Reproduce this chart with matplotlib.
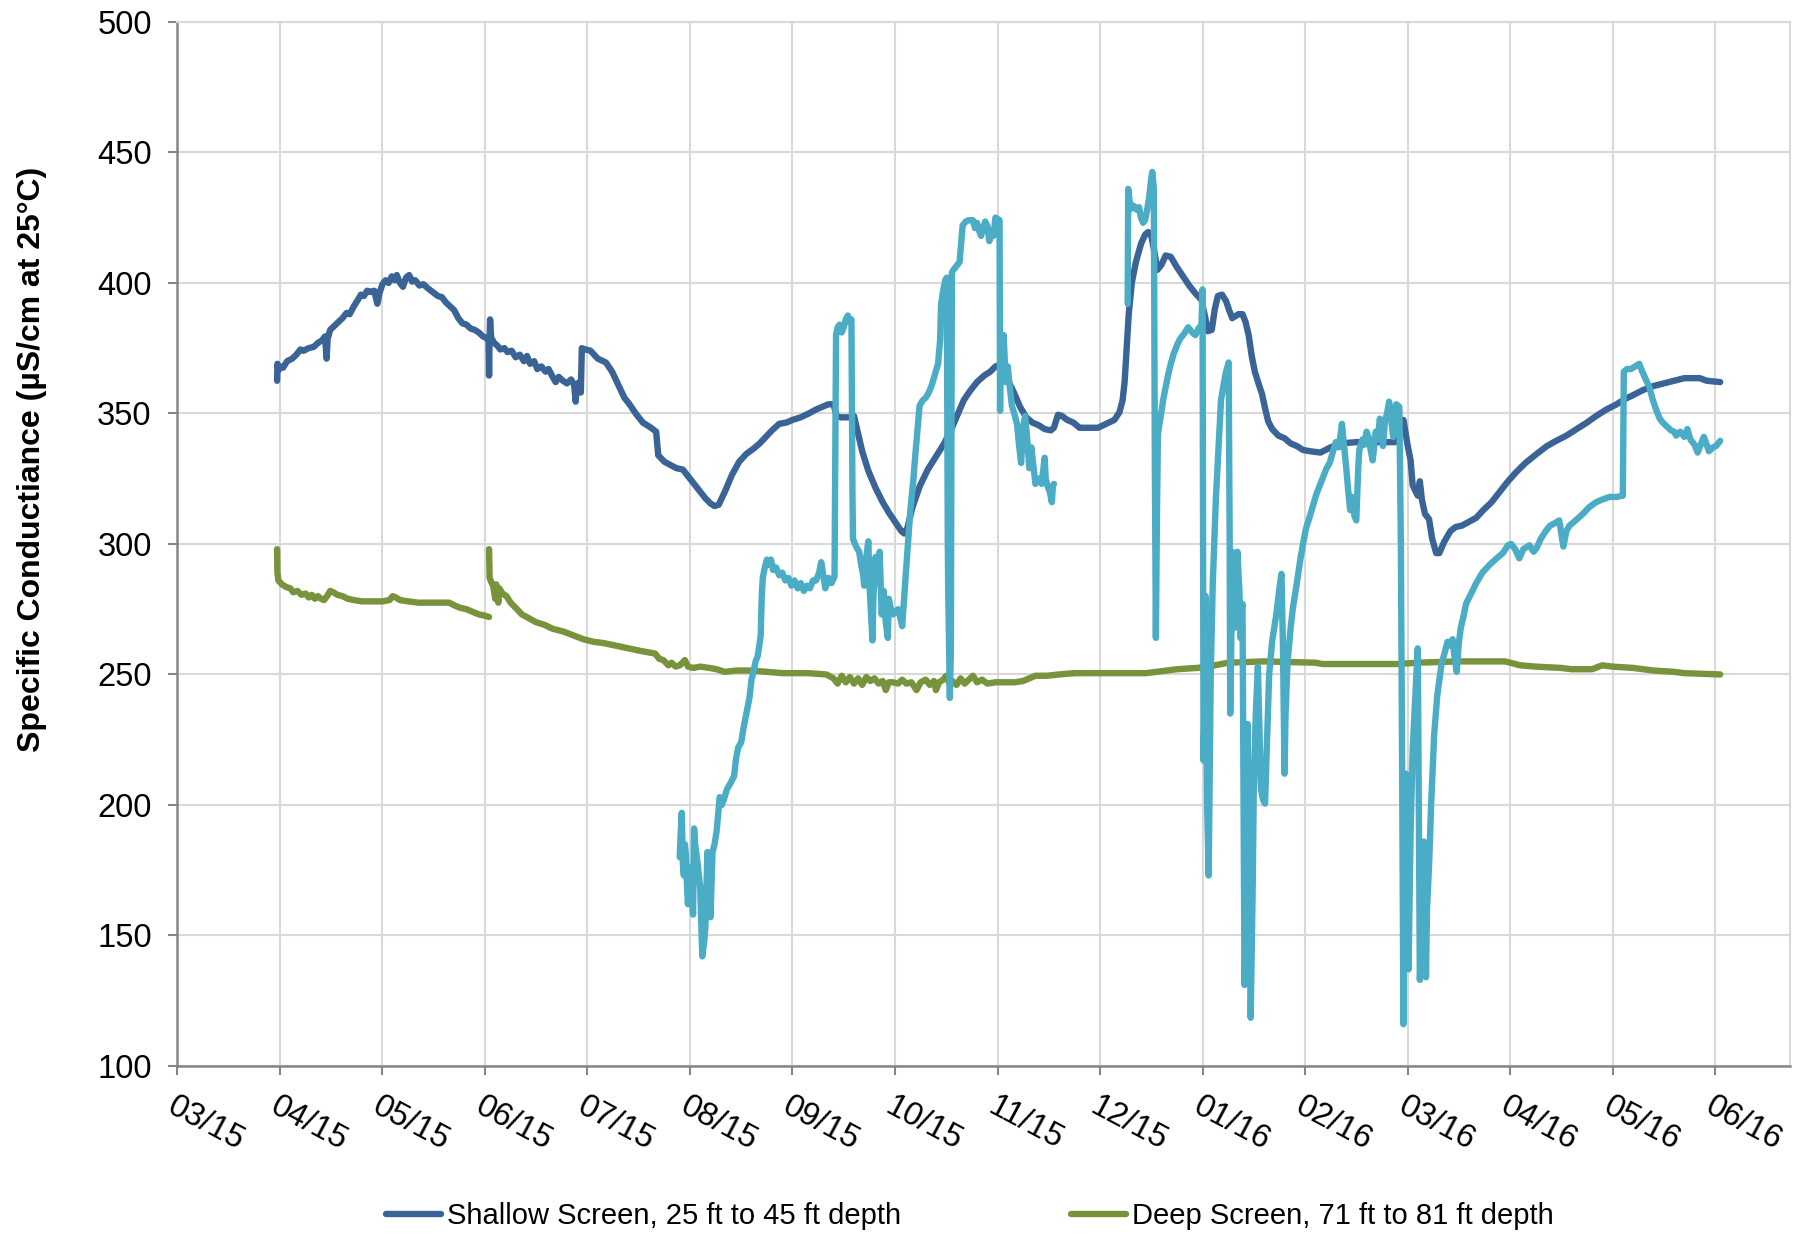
import matplotlib
matplotlib.use("Agg")
import matplotlib.pyplot as plt

plt.rcParams["font.family"] = ["Liberation Sans", "DejaVu Sans"]

# x positions are in months since 1 March 2015 (tick i = month i)
MONTH_LABELS = ["03/15", "04/15", "05/15", "06/15", "07/15", "08/15", "09/15", "10/15",
                "11/15", "12/15", "01/16", "02/16", "03/16", "04/16", "05/16", "06/16"]
Y_TICKS = [100, 150, 200, 250, 300, 350, 400, 450, 500]

# Shallow screen (dark blue)
SHALLOW = [
    (0.972, 362.5), (0.976, 369), (0.985, 366.5), (1.00, 368), (1.03, 367.5), (1.07, 370),
    (1.12, 371), (1.16, 372.5), (1.20, 374.5), (1.23, 374), (1.28, 375), (1.33, 375.5),
    (1.37, 377), (1.41, 378), (1.44, 379.5), (1.455, 371), (1.465, 378.5), (1.49, 382),
    (1.53, 383.5), (1.57, 385), (1.61, 386.5), (1.65, 388.5), (1.68, 388), (1.72, 391),
    (1.76, 393.5), (1.79, 395.5), (1.82, 395), (1.85, 397), (1.88, 396.5), (1.92, 397),
    (1.95, 392), (1.97, 396), (2.00, 399.5), (2.03, 401), (2.06, 400), (2.09, 402.5),
    (2.12, 401), (2.14, 403), (2.17, 400), (2.20, 398.5), (2.23, 402), (2.26, 403),
    (2.29, 400.5), (2.32, 401), (2.36, 399), (2.40, 399.5), (2.44, 398), (2.49, 396.5),
    (2.54, 395), (2.58, 394.5), (2.62, 392.5), (2.66, 391), (2.70, 389.5), (2.74, 386.5),
    (2.78, 384.5), (2.82, 384), (2.86, 382.5), (2.90, 382), (2.94, 381), (2.98, 379.5),
    (3.01, 379), (3.035, 378), (3.04, 364.5), (3.045, 379), (3.05, 386), (3.06, 379),
    (3.09, 377), (3.12, 376), (3.15, 374.5), (3.19, 375), (3.22, 373.5), (3.26, 374),
    (3.30, 371.5), (3.34, 372.5), (3.38, 370), (3.41, 372), (3.44, 369), (3.48, 370),
    (3.51, 367), (3.55, 368), (3.59, 366), (3.62, 367), (3.66, 364), (3.69, 362),
    (3.72, 364), (3.76, 362.5), (3.80, 361.5), (3.84, 363), (3.87, 361), (3.885, 354.5),
    (3.895, 361), (3.92, 362), (3.935, 358), (3.945, 375), (3.98, 374.5), (4.03, 374),
    (4.10, 371), (4.18, 369.5), (4.24, 366), (4.30, 361), (4.36, 356), (4.41, 353.5),
    (4.47, 350), (4.54, 346.5), (4.62, 344.5), (4.67, 343), (4.69, 334), (4.75, 331.5),
    (4.82, 330), (4.87, 329), (4.93, 328.5), (4.98, 326), (5.03, 323.5), (5.09, 320.5),
    (5.15, 317.5), (5.20, 315.5), (5.24, 314.5), (5.28, 315), (5.34, 320), (5.41, 326.5),
    (5.48, 331.5), (5.55, 334.5), (5.62, 336.5), (5.68, 338.5), (5.74, 341), (5.80, 343.5),
    (5.87, 346), (5.94, 346.5), (6.00, 347.5), (6.08, 348.5), (6.16, 350), (6.23, 351.5),
    (6.29, 352.5), (6.35, 353.5), (6.40, 353.5), (6.43, 349), (6.47, 348.5), (6.56, 348.5),
    (6.60, 349), (6.63, 344), (6.68, 335.5), (6.74, 328), (6.81, 321.5), (6.88, 316),
    (6.94, 312), (7.00, 308.5), (7.06, 305), (7.09, 304), (7.12, 306), (7.17, 314),
    (7.24, 322), (7.32, 328.5), (7.40, 333.5), (7.48, 338.5), (7.55, 344), (7.61, 349.5),
    (7.67, 355), (7.73, 358.5), (7.80, 362), (7.87, 364.5), (7.93, 366), (7.98, 368),
    (8.02, 368.5), (8.06, 366), (8.11, 362), (8.16, 358), (8.22, 352.5), (8.28, 348.5),
    (8.34, 346.5), (8.40, 345.5), (8.46, 344), (8.52, 343.5), (8.55, 344.5), (8.59, 349.5),
    (8.63, 349), (8.68, 347.5), (8.74, 346.5), (8.80, 344.5), (8.90, 344.5), (8.98, 344.5),
    (9.06, 346), (9.14, 347.5), (9.19, 350.5), (9.22, 355), (9.24, 362), (9.26, 375),
    (9.28, 388), (9.31, 400), (9.35, 408), (9.40, 415), (9.44, 418.5), (9.47, 419.5),
    (9.50, 418), (9.53, 412), (9.56, 405), (9.60, 407), (9.64, 410.5), (9.69, 410),
    (9.75, 406), (9.81, 402.5), (9.87, 399), (9.93, 396), (9.99, 393.5), (10.03, 386),
    (10.05, 381.5), (10.09, 382), (10.12, 390), (10.15, 395), (10.19, 395.5), (10.23, 393),
    (10.26, 389.5), (10.29, 386.5), (10.35, 388), (10.39, 388), (10.42, 385), (10.45, 380),
    (10.48, 372), (10.51, 366), (10.55, 361), (10.58, 357.5), (10.61, 352), (10.64, 347),
    (10.68, 344), (10.74, 341.5), (10.80, 340.5), (10.86, 338.5), (10.92, 337.5), (10.98, 336),
    (11.05, 335.5), (11.15, 335), (11.25, 337), (11.35, 338.5), (11.50, 339), (11.70, 339),
    (11.88, 339), (11.92, 343), (11.96, 347.5), (12.00, 338), (12.03, 332), (12.05, 322.5),
    (12.08, 320), (12.10, 318.5), (12.12, 324), (12.14, 317), (12.17, 311.5), (12.21, 309.5),
    (12.24, 302), (12.28, 296.5), (12.31, 296.5), (12.36, 301), (12.42, 305), (12.47, 306.5),
    (12.53, 307), (12.60, 308.5), (12.67, 310), (12.74, 313), (12.82, 316), (12.90, 320),
    (12.98, 324), (13.06, 327.5), (13.15, 331), (13.26, 334.5), (13.36, 337.5), (13.45, 339.5),
    (13.55, 341.5), (13.65, 344), (13.75, 346.5), (13.84, 349), (13.94, 351.5), (14.04, 353.5),
    (14.12, 355.5), (14.20, 357), (14.30, 359), (14.40, 360.5), (14.50, 361.5), (14.60, 362.5),
    (14.70, 363.5), (14.85, 363.5), (14.92, 362.5), (15.05, 362),
]

# Deep screen (green), two logger segments
DEEP_1 = [
    (0.972, 298), (0.975, 289), (0.985, 286), (1.02, 284.5), (1.06, 283.5), (1.10, 283),
    (1.13, 281.5), (1.17, 282), (1.21, 280.5), (1.25, 281), (1.28, 279.5), (1.31, 280.5),
    (1.34, 279), (1.37, 280), (1.40, 279), (1.43, 278.5), (1.46, 280), (1.49, 282),
    (1.52, 281.5), (1.56, 280.5), (1.61, 280), (1.66, 279), (1.72, 278.5), (1.80, 278),
    (1.90, 278), (2.00, 278), (2.07, 278.5), (2.10, 280), (2.13, 279.5), (2.17, 278.5),
    (2.25, 278), (2.35, 277.5), (2.45, 277.5), (2.55, 277.5), (2.65, 277.5), (2.70, 276.5),
    (2.76, 275.5), (2.82, 275), (2.88, 274), (2.94, 273), (3.00, 272.5), (3.04, 272),
]
DEEP_2 = [
    (3.04, 298), (3.045, 287), (3.06, 285.5), (3.08, 284), (3.10, 279), (3.11, 284.5),
    (3.13, 277.5), (3.14, 283), (3.17, 281), (3.21, 280), (3.25, 277.5), (3.30, 275.5),
    (3.36, 273), (3.43, 271.5), (3.50, 270), (3.58, 269), (3.66, 267.5), (3.76, 266.5),
    (3.86, 265), (3.96, 263.5), (4.06, 262.5), (4.16, 262), (4.28, 261), (4.40, 260),
    (4.52, 259), (4.66, 258), (4.70, 256), (4.74, 255.5), (4.79, 253.5), (4.82, 254.5),
    (4.86, 253), (4.90, 253.5), (4.95, 255.5), (4.98, 253), (5.03, 252.5), (5.10, 253),
    (5.19, 252.5), (5.26, 252), (5.34, 251), (5.45, 251.5), (5.60, 251.5), (5.75, 251),
    (5.90, 250.5), (6.00, 250.5), (6.15, 250.5), (6.33, 250), (6.40, 248.5), (6.44, 246.5),
    (6.48, 249.5), (6.52, 247), (6.56, 249), (6.60, 246.5), (6.64, 248.5), (6.68, 246),
    (6.72, 249), (6.76, 247.5), (6.80, 248.5), (6.84, 246.5), (6.88, 247.5), (6.91, 244),
    (6.94, 247), (6.98, 247), (7.03, 246.5), (7.07, 248), (7.11, 246.5), (7.16, 247),
    (7.21, 244), (7.25, 247), (7.30, 248), (7.34, 246), (7.38, 247.5), (7.40, 244),
    (7.43, 247), (7.47, 248), (7.50, 249.5), (7.53, 246.5), (7.56, 247.5), (7.60, 246),
    (7.64, 248.5), (7.68, 246.5), (7.72, 248), (7.76, 249.5), (7.80, 247), (7.85, 248),
    (7.90, 246.5), (7.98, 247), (8.08, 247), (8.17, 247), (8.25, 247.5), (8.31, 248.5),
    (8.37, 249.5), (8.48, 249.5), (8.60, 250), (8.75, 250.5), (9.00, 250.5), (9.20, 250.5),
    (9.45, 250.5), (9.55, 251), (9.75, 252), (9.95, 252.5), (10.12, 253.5), (10.25, 254.5),
    (10.60, 255), (11.10, 254.5), (11.17, 254), (11.50, 254), (11.90, 254), (12.10, 254.5),
    (12.50, 255), (12.95, 255), (13.10, 253.5), (13.25, 253), (13.50, 252.5), (13.60, 252),
    (13.80, 252), (13.90, 253.5), (14.00, 253), (14.20, 252.5), (14.40, 251.5), (14.60, 251),
    (14.70, 250.5), (15.05, 250),
]

# Third record (light blue), not in the legend; two segments
LIGHT_1 = [
    (4.90, 180), (4.91, 190), (4.92, 197), (4.93, 178), (4.94, 173), (4.95, 185), (4.96, 181),
    (4.97, 170), (4.98, 162), (4.99, 172), (5.00, 176), (5.02, 165), (5.03, 158), (5.04, 191),
    (5.05, 185), (5.07, 179), (5.09, 172), (5.10, 168), (5.12, 142), (5.14, 148), (5.15, 153),
    (5.17, 182), (5.19, 165), (5.20, 157), (5.22, 182), (5.24, 185), (5.26, 190), (5.29, 203),
    (5.31, 200), (5.33, 202), (5.36, 206), (5.39, 208), (5.43, 211), (5.45, 218), (5.47, 222),
    (5.50, 224), (5.52, 229), (5.54, 233), (5.56, 237), (5.58, 241), (5.60, 248), (5.62, 251),
    (5.64, 255), (5.66, 257), (5.68, 262), (5.69, 265), (5.70, 280), (5.71, 287), (5.73, 291),
    (5.75, 294), (5.77, 292), (5.79, 294), (5.81, 290), (5.84, 291), (5.87, 288), (5.90, 289),
    (5.93, 286), (5.96, 287), (5.99, 284), (6.02, 286), (6.05, 283), (6.08, 285), (6.11, 282),
    (6.14, 284), (6.17, 283), (6.20, 286), (6.23, 286), (6.26, 289), (6.28, 293), (6.30, 288),
    (6.32, 283), (6.35, 287), (6.38, 285), (6.41, 287.5), (6.425, 380), (6.44, 383),
    (6.46, 384), (6.48, 381), (6.50, 383), (6.52, 386), (6.54, 387.5), (6.56, 385),
    (6.575, 386), (6.585, 320), (6.59, 302), (6.62, 299), (6.65, 297), (6.67, 292), (6.69, 288),
    (6.70, 284), (6.72, 295), (6.74, 301), (6.75, 285), (6.77, 270), (6.78, 263), (6.79, 280),
    (6.81, 295), (6.83, 285), (6.85, 297), (6.86, 285), (6.87, 273), (6.88, 278), (6.89, 282),
    (6.91, 270), (6.93, 264), (6.94, 279), (6.96, 275), (6.98, 273), (7.00, 274), (7.03, 275),
    (7.05, 272), (7.07, 268.5), (7.09, 280), (7.11, 291), (7.13, 302), (7.15, 313), (7.18, 325),
    (7.20, 335), (7.22, 344), (7.24, 353), (7.27, 355), (7.30, 356), (7.33, 358), (7.36, 361),
    (7.39, 365), (7.42, 369), (7.44, 378), (7.45, 392), (7.47, 397), (7.49, 401), (7.505, 402),
    (7.515, 300), (7.52, 280), (7.535, 241), (7.545, 260), (7.555, 404), (7.57, 405),
    (7.59, 406), (7.61, 407), (7.63, 408), (7.645, 415), (7.66, 422), (7.69, 423.5),
    (7.72, 424), (7.76, 424), (7.78, 421), (7.80, 423), (7.82, 420), (7.84, 418), (7.86, 421),
    (7.88, 423.5), (7.90, 422), (7.92, 416), (7.94, 420), (7.96, 418), (7.98, 425),
    (8.00, 424.5), (8.02, 424), (8.025, 351), (8.03, 378), (8.04, 372), (8.06, 380),
    (8.08, 362), (8.10, 368), (8.12, 360), (8.14, 353), (8.17, 349), (8.19, 346), (8.21, 338),
    (8.23, 331), (8.25, 345), (8.27, 349), (8.29, 340), (8.31, 329), (8.33, 337), (8.35, 330),
    (8.37, 323), (8.40, 325), (8.43, 323), (8.46, 333), (8.47, 325), (8.49, 322), (8.51, 320),
    (8.53, 316), (8.54, 322), (8.55, 323),
]
LIGHT_2 = [
    (9.27, 392), (9.275, 436), (9.29, 431), (9.31, 428.5), (9.33, 429.5), (9.36, 428),
    (9.38, 429), (9.40, 425), (9.42, 423), (9.44, 424), (9.46, 428), (9.48, 433), (9.50, 440),
    (9.51, 442.5), (9.525, 436), (9.535, 330), (9.545, 264), (9.555, 310), (9.565, 342),
    (9.58, 346), (9.60, 351), (9.62, 356), (9.64, 360), (9.66, 364), (9.69, 369), (9.72, 373),
    (9.75, 376), (9.78, 378.5), (9.82, 380.5), (9.86, 383), (9.90, 381), (9.93, 380),
    (9.96, 382.5), (9.99, 384), (10.00, 397.5), (10.005, 300), (10.01, 217), (10.02, 240),
    (10.03, 280), (10.045, 200), (10.06, 173), (10.07, 210), (10.08, 250), (10.10, 285),
    (10.13, 317), (10.16, 340), (10.18, 355), (10.21, 362), (10.23, 366), (10.255, 369.5),
    (10.265, 300), (10.27, 235), (10.28, 260), (10.29, 297), (10.30, 280), (10.32, 268),
    (10.34, 297), (10.36, 282), (10.37, 264), (10.38, 275), (10.39, 277), (10.40, 200),
    (10.41, 131), (10.43, 170), (10.44, 231), (10.455, 180), (10.47, 118.5), (10.49, 170),
    (10.50, 206), (10.52, 235), (10.54, 253), (10.555, 230), (10.57, 206), (10.59, 202),
    (10.61, 200.5), (10.63, 225), (10.65, 250), (10.68, 263), (10.72, 273), (10.75, 283),
    (10.77, 288.5), (10.785, 260), (10.80, 212), (10.81, 235), (10.83, 255), (10.86, 268),
    (10.88, 275), (10.92, 285), (10.95, 293), (10.98, 300), (11.01, 306), (11.05, 311),
    (11.08, 315), (11.11, 319), (11.14, 322), (11.18, 326), (11.21, 329), (11.24, 331),
    (11.27, 335), (11.30, 339), (11.33, 337), (11.36, 346), (11.38, 338), (11.40, 330),
    (11.42, 321), (11.44, 313), (11.46, 318), (11.48, 311), (11.50, 309), (11.52, 330),
    (11.53, 336), (11.56, 340), (11.58, 338), (11.60, 343), (11.62, 341), (11.64, 336),
    (11.66, 332), (11.69, 343), (11.71, 340), (11.73, 348), (11.75, 342), (11.76, 337.5),
    (11.78, 347), (11.80, 350), (11.82, 354.5), (11.84, 348), (11.86, 341), (11.87, 351),
    (11.89, 353.5), (11.92, 352.5), (11.935, 300), (11.945, 230), (11.96, 116), (11.97, 170),
    (11.985, 212), (12.00, 180), (12.01, 137), (12.03, 190), (12.05, 221), (12.08, 245),
    (12.10, 260), (12.11, 200), (12.12, 133), (12.14, 150), (12.16, 186), (12.17, 160),
    (12.18, 134), (12.19, 160), (12.21, 177), (12.23, 200), (12.26, 227), (12.29, 242),
    (12.33, 253.5), (12.36, 258), (12.39, 262.5), (12.42, 261), (12.44, 263.5), (12.46, 256),
    (12.48, 251), (12.50, 262), (12.52, 268), (12.55, 273), (12.57, 277), (12.62, 281),
    (12.67, 285), (12.73, 289), (12.80, 292), (12.87, 294.5), (12.93, 296.5), (12.98, 299.5),
    (13.01, 300), (13.05, 298), (13.09, 294.5), (13.13, 298), (13.19, 299.5), (13.23, 297),
    (13.26, 298.5), (13.30, 302), (13.35, 305), (13.39, 307), (13.44, 308), (13.48, 309),
    (13.50, 304), (13.52, 299), (13.55, 305), (13.58, 307), (13.64, 309), (13.71, 311.5),
    (13.77, 314), (13.84, 316), (13.90, 317), (13.97, 318), (14.04, 318), (14.10, 318.5),
    (14.11, 366), (14.14, 367), (14.18, 367), (14.22, 368), (14.26, 369), (14.29, 366),
    (14.33, 362.5), (14.36, 360), (14.39, 355.5), (14.42, 352), (14.46, 348), (14.49, 346.5),
    (14.53, 345), (14.57, 343.5), (14.60, 343), (14.62, 341.5), (14.66, 343), (14.70, 341),
    (14.73, 344), (14.76, 340), (14.80, 338), (14.83, 335), (14.86, 338), (14.89, 341),
    (14.91, 339), (14.94, 335.5), (14.98, 337), (15.01, 337.5), (15.03, 338.5), (15.05, 339.5),
]

C_SHALLOW = "#3A6496"
C_DEEP = "#77933C"
C_LIGHT = "#4BACC6"
GRID = "#D9D9D9"
AXIS = "#868686"

fig = plt.figure(figsize=(17.96, 12.41), dpi=100)
ax = fig.add_axes([0.0988, 0.141, 0.8978, 0.8414])

line_kw = dict(lw=4.6, solid_joinstyle="round", solid_capstyle="round")


def plot_seg(points, color, label=None, z=2):
    xs, ys = zip(*points)
    return ax.plot(xs, ys, color=color, label=label, zorder=z, **line_kw)[0]


h_shallow = plot_seg(SHALLOW, C_SHALLOW, "Shallow Screen, 25 ft to 45 ft depth", z=2)
h_deep = plot_seg(DEEP_1, C_DEEP, "Deep Screen, 71 ft to 81 ft depth", z=3)
plot_seg(DEEP_2, C_DEEP, z=3)
plot_seg(LIGHT_1, C_LIGHT, z=4)
plot_seg(LIGHT_2, C_LIGHT, z=4)

ax.set_xlim(0, 15.73)
ax.set_ylim(100, 500)
ax.set_yticks(Y_TICKS)
ax.set_xticks(range(len(MONTH_LABELS)))
ax.set_xticklabels(MONTH_LABELS, rotation=-28, ha="left", va="top", rotation_mode="anchor")

ax.grid(True, color=GRID, lw=1.5, zorder=0)
ax.set_axisbelow(True)
for s in ("left", "bottom"):
    ax.spines[s].set_color(AXIS)
    ax.spines[s].set_linewidth(1.8)
for s in ("top", "right"):
    ax.spines[s].set_color(GRID)
    ax.spines[s].set_linewidth(1.5)

ax.tick_params(axis="both", direction="out", length=6.5, width=1.5, color=AXIS, labelsize=23.5)
ax.tick_params(axis="y", pad=12)
ax.tick_params(axis="x", pad=11)

ax.set_ylabel("Specific Conductiance (µS/cm at 25°C)", fontsize=23, fontweight="bold")
ax.yaxis.set_label_coords(-0.081, 0.581)

fig.legend(handles=[h_shallow, h_deep], loc="center", bbox_to_anchor=(0.540, 0.020),
           ncol=2, frameon=False, fontsize=21, handlelength=1.9, handletextpad=0.2,
           columnspacing=5.8)

fig.savefig("out.png", dpi=100)
